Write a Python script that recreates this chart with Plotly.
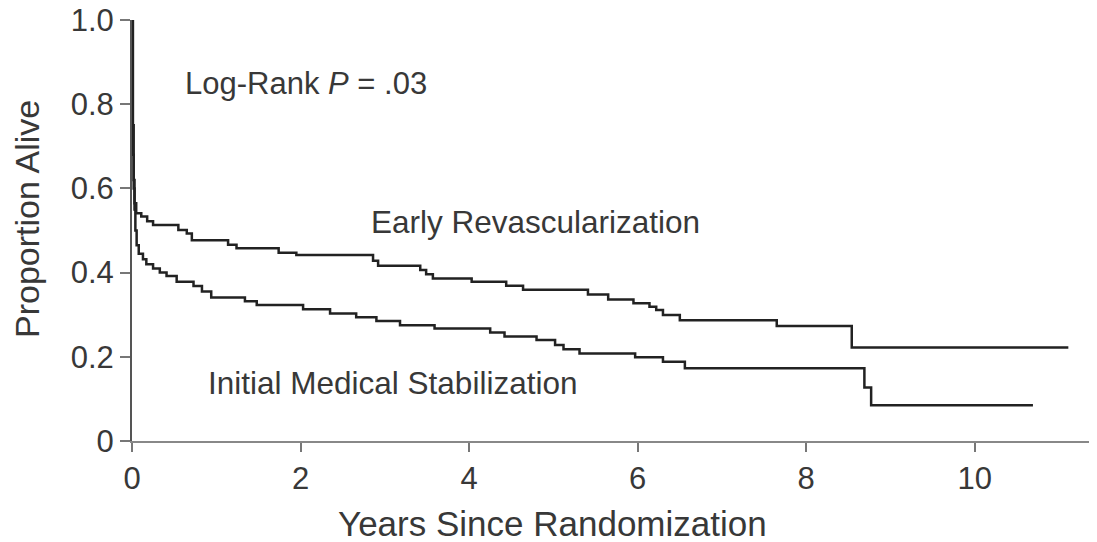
import plotly.graph_objects as go

# Early Revascularization (Kaplan-Meier steps)
er_years = [0, 0.01, 0.02, 0.03, 0.05, 0.11, 0.18, 0.25, 0.55, 0.65, 0.71, 1.14, 1.24, 1.74, 1.95,
            2.86, 2.92, 3.42, 3.49, 3.57, 4.03, 4.44, 4.64, 5.41, 5.65, 5.95, 6.14, 6.22, 6.30,
            6.50, 7.65, 8.54, 11.11]
er_surv = [1.0, 0.68, 0.60, 0.565, 0.541, 0.533, 0.522, 0.513, 0.501, 0.493, 0.477, 0.466, 0.458,
           0.447, 0.442, 0.428, 0.416, 0.406, 0.396, 0.386, 0.378, 0.369, 0.359, 0.348, 0.336,
           0.327, 0.319, 0.311, 0.299, 0.287, 0.273, 0.222, 0.222]

# Initial Medical Stabilization
ims_years = [0, 0.01, 0.02, 0.03, 0.04, 0.055, 0.08, 0.13, 0.17, 0.25, 0.33, 0.41, 0.53, 0.73,
             0.83, 0.94, 1.34, 1.48, 2.03, 2.35, 2.66, 2.90, 3.18, 3.59, 4.25, 4.42, 4.80, 5.02,
             5.12, 5.31, 5.97, 6.30, 6.56, 8.69, 8.77, 10.69]
ims_surv = [1.0, 0.75, 0.62, 0.55, 0.50, 0.465, 0.445, 0.432, 0.42, 0.41, 0.40, 0.392, 0.378,
            0.368, 0.355, 0.341, 0.332, 0.323, 0.313, 0.303, 0.294, 0.285, 0.275, 0.267, 0.258,
            0.248, 0.240, 0.228, 0.218, 0.208, 0.199, 0.188, 0.173, 0.127, 0.085, 0.085]

x_ticks = [0, 2, 4, 6, 8, 10]
y_ticks = [0, 0.2, 0.4, 0.6, 0.8, 1.0]
y_ticklabels = ["0", "0.2", "0.4", "0.6", "0.8", "1.0"]

FONT = "Liberation Sans, Arial, Helvetica, sans-serif"
TXT = "#383838"
LINE = "#222222"

fig = go.Figure()
fig.add_trace(go.Scatter(x=er_years, y=er_surv, mode="lines", line_shape="hv",
                         line=dict(color=LINE, width=2.5), name="Early Revascularization",
                         showlegend=False))
fig.add_trace(go.Scatter(x=ims_years, y=ims_surv, mode="lines", line_shape="hv",
                         line=dict(color=LINE, width=2.5), name="Initial Medical Stabilization",
                         showlegend=False))

# page body has an 8px margin, so the figure is sized/offset to compensate
fig.update_layout(
    width=1089, height=534,
    margin=dict(l=124, r=0, t=12, b=101, autoexpand=False),
    plot_bgcolor="white", paper_bgcolor="white",
    font=dict(family=FONT, color=TXT, size=31),
    showlegend=False,
)
fig.update_xaxes(range=[0, 11.45], tickvals=x_ticks, ticks="outside", ticklen=9,
                 tickcolor="#777777", tickwidth=1.5, showline=True, linecolor="#888888",
                 linewidth=1.5, showgrid=False, zeroline=False, automargin=False,
                 ticklabeloverflow="allow",
                 tickfont=dict(size=31, color=TXT, family=FONT))
fig.update_yaxes(range=[0, 1.0], tickvals=y_ticks, ticktext=y_ticklabels, ticks="outside",
                 ticklen=10, tickcolor="#777777", tickwidth=1.5, showline=True,
                 linecolor="#555555", linewidth=2, showgrid=False, zeroline=False,
                 automargin=False, ticklabeloverflow="allow",
                 tickfont=dict(size=31, color=TXT, family=FONT))

annos = [
    dict(x=0.436, y=-0.197, xref="paper", yref="paper", text="Years Since Randomization",
         font=dict(size=35)),
    dict(x=-0.109, y=0.527, xref="paper", yref="paper", text="Proportion Alive",
         textangle=-90, font=dict(size=34)),
    dict(x=2.06, y=0.848, xref="x", yref="y", text="Log-Rank <i>P</i> = .03",
         font=dict(size=31)),
    dict(x=4.79, y=0.521, xref="x", yref="y", text="Early Revascularization",
         font=dict(size=31.5)),
    dict(x=3.09, y=0.137, xref="x", yref="y", text="Initial Medical Stabilization",
         font=dict(size=31.5)),
]
for a in annos:
    a.setdefault("showarrow", False)
    a["xanchor"] = "center"
    a["yanchor"] = "middle"
    a["font"] = dict(family=FONT, color=TXT, size=a["font"]["size"])
    fig.add_annotation(**a)

fig.write_html("out.html")
